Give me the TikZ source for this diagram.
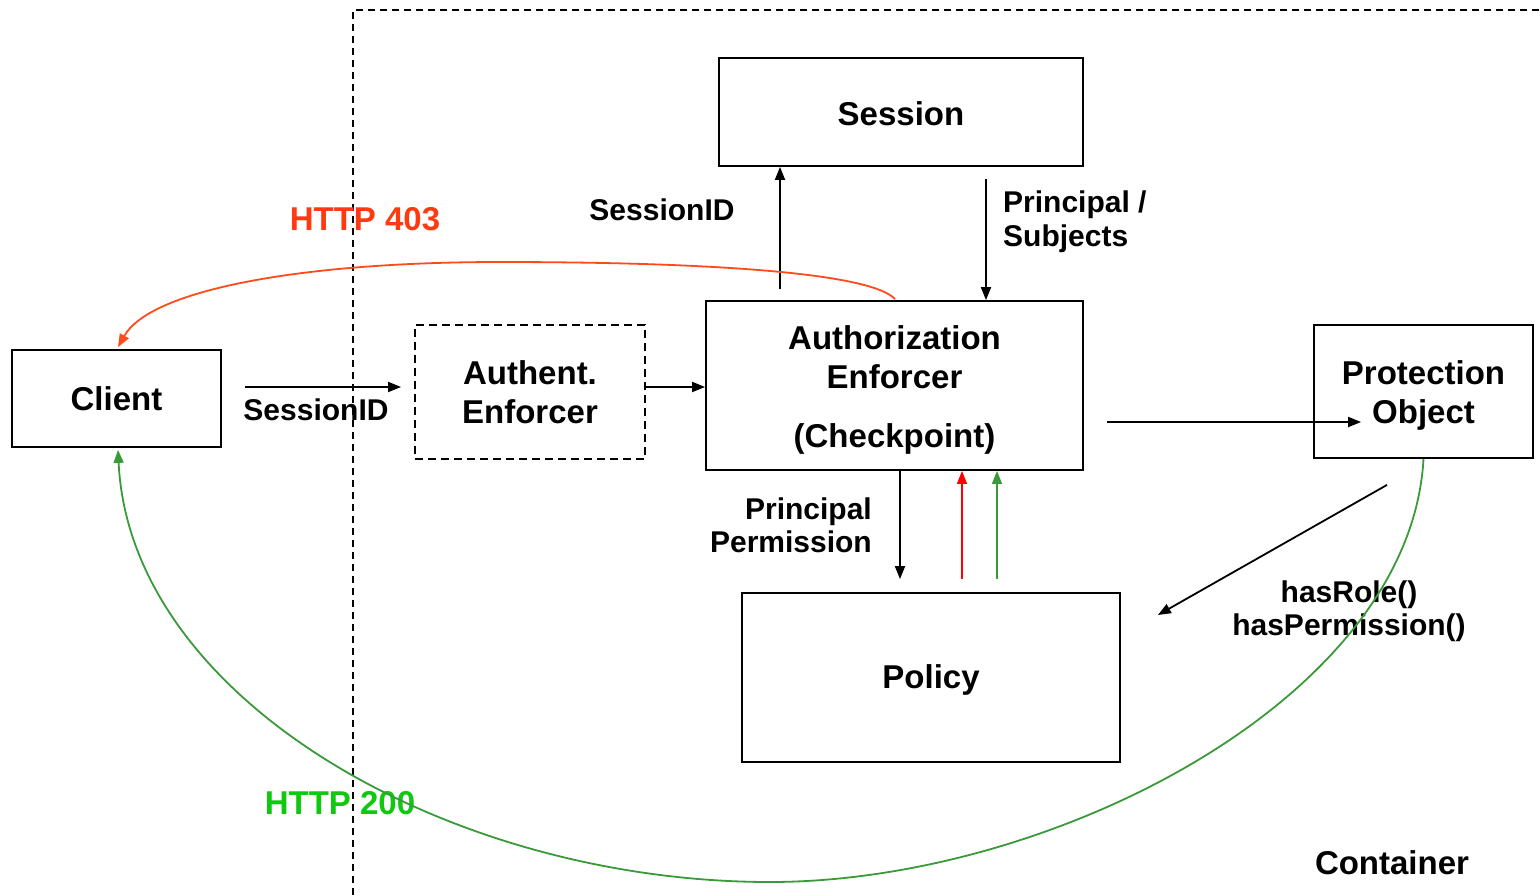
\documentclass[tikz,border=0pt]{standalone}
\usepackage{fontspec}
\setmainfont{Liberation Sans}
\usetikzlibrary{arrows.meta}
\definecolor{orred}{HTML}{FF4A1A}
\definecolor{lblred}{HTML}{FF3A10}
\definecolor{dgreen}{HTML}{3A9A3A}
\definecolor{lgreen}{HTML}{10C810}
\tikzset{
  box/.style={draw=black, line width=1.8pt, inner sep=0pt, align=center, fill=none},
  dbox/.style={box, dash pattern=on 8pt off 5pt},
  arr/.style={line width=1.8pt, -{Triangle[length=13pt,width=10pt]}},
  lbl/.style={inner sep=0pt, font=\fontsize{30}{33}\selectfont\bfseries},
  hlbl/.style={inner sep=0pt, font=\fontsize{33}{33}\selectfont\bfseries},
  txt/.style={inner sep=0pt, align=center},
}
\begin{document}
\begin{tikzpicture}[x=1pt,y=-1pt, every node/.style={font=\fontsize{33}{39}\selectfont\bfseries}]
\useasboundingbox (0,0) rectangle (1540,895);
% container
\draw[line width=1.8pt, dash pattern=on 7pt off 5pt] (353,895) -- (353,10) -- (1545,10);
% boxes
\node[box, minimum width=209pt, minimum height=97pt] (client) at (116.5,398.5) {Client};
\node[dbox, minimum width=230pt, minimum height=134pt] (authent) at (530,392) {Authent.\\Enforcer};
\node[box, minimum width=377pt, minimum height=169pt] (authz) at (894.5,385.5) {};
\node[txt] (authzt) at (894.5,389.5) {Authorization\\Enforcer\\[20pt](Checkpoint)};
\node[box, minimum width=364pt, minimum height=108pt] (session) at (901,112) {};
\node[txt] (sessiont) at (901,114) {Session};
\node[box, minimum width=219pt, minimum height=133pt] (prot) at (1423.5,391.5) {};
\node[txt] (prott) at (1423.5,395.5) {Protection\\Object};
\node[box, minimum width=378pt, minimum height=169pt] (policy) at (931,677.5) {};
\node[txt] (policyt) at (931,680) {Policy};
% labels
\node[lbl] (sid1) at (316,410) {SessionID};
\node[lbl] (sid2) at (662,210) {SessionID};
\node[lbl, anchor=west, align=left, font=\fontsize{30}{34}\selectfont\bfseries] (ps) at (1003,222) {Principal /\\Subjects};
\node[lbl, anchor=east, align=right] (pp) at (872,525) {Principal\\Permission};
\node[lbl, align=center] (hr) at (1349,611) {hasRole()\\hasPermission()};
\node[hlbl, text=lblred] (h403) at (365,219) {HTTP 403};
\node[hlbl, text=lgreen] (h200) at (340,803) {HTTP 200};
\node[hlbl] (cont) at (1392,863) {Container};
% straight connectors
\draw[arr] ([shift={(23,-11.5)}]client.east) -- ([shift={(-13,-5)}]authent.west);
\draw[arr] ([shift={(0,-5)}]authent.east) -- ([shift={(0,1.5)}]authz.west);
\draw[arr] ([shift={(-114.5,-11)}]authz.north) -- ([shift={(-121,0)}]session.south);
\draw[arr] ([shift={(85,12)}]session.south) -- ([shift={(91.5,0)}]authz.north);
\draw[arr] ([shift={(23,36.5)}]authz.east) -- ([shift={(48,30.5)}]prot.west);
\draw[arr] ([shift={(5.5,0)}]authz.south) -- ([shift={(-31,-13)}]policy.north);
\draw[arr, red, line width=1.5pt] ([shift={(31,-13)}]policy.north) -- ([shift={(67.5,0)}]authz.south);
\draw[arr, dgreen, line width=1.5pt] ([shift={(66,-13)}]policy.north) -- ([shift={(102.5,0)}]authz.south);
\draw[arr] ([shift={(-36.5,26)}]prot.south) -- ([shift={(37,-62.5)}]policy.east);
% curves
\coordinate (rtop) at (500,262);
\coordinate (gbot) at (770,882);
\draw[arr, orred, line width=1.8pt] ([shift={(0.5,-1)}]authz.north) .. controls (870,272) and (700,262) .. (rtop) .. controls (300,262) and (150,290) .. ([shift={(1.5,-2)}]client.north);
\draw[arr, dgreen, line width=1.8pt] (prot.south) .. controls (1410,700) and (1050,882) .. (gbot) .. controls (450,882) and (130,700) .. ([shift={(1.5,2)}]client.south);
\end{tikzpicture}
\end{document}
